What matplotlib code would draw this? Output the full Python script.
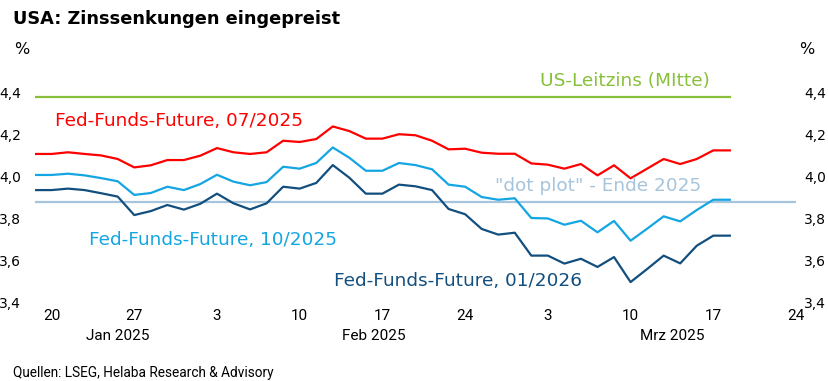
import pandas as pd
import matplotlib.pyplot as plt
from matplotlib.ticker import FixedLocator

# trading days shown (Jan 17 - Mar 18 2025), axis runs to Mar 24
dates = pd.bdate_range("2025-01-17", "2025-03-18")
axis_dates = pd.bdate_range("2025-01-17", "2025-03-24")

ff_07_2025 = [4.105, 4.105, 4.113, 4.105, 4.098, 4.081, 4.041, 4.051, 4.076, 4.076,
              4.097, 4.133, 4.113, 4.105, 4.113, 4.168, 4.162, 4.176, 4.236, 4.214,
              4.178, 4.178, 4.199, 4.194, 4.168, 4.127, 4.130, 4.111, 4.106, 4.106,
              4.060, 4.054, 4.035, 4.057, 4.003, 4.051, 3.989, 4.035, 4.081, 4.057,
              4.081, 4.122, 4.122]
ff_10_2025 = [4.005, 4.005, 4.011, 4.003, 3.990, 3.975, 3.910, 3.919, 3.949, 3.933,
              3.962, 4.006, 3.973, 3.956, 3.971, 4.044, 4.035, 4.062, 4.136, 4.087,
              4.025, 4.025, 4.062, 4.052, 4.032, 3.959, 3.949, 3.900, 3.887, 3.894,
              3.800, 3.798, 3.768, 3.787, 3.732, 3.786, 3.692, 3.749, 3.808, 3.784,
              3.838, 3.887, 3.887]
ff_01_2026 = [3.933, 3.933, 3.940, 3.933, 3.918, 3.902, 3.814, 3.833, 3.862, 3.840,
              3.868, 3.916, 3.870, 3.841, 3.870, 3.949, 3.940, 3.967, 4.052, 3.992,
              3.916, 3.916, 3.959, 3.951, 3.933, 3.843, 3.818, 3.748, 3.721, 3.730,
              3.621, 3.621, 3.583, 3.606, 3.567, 3.614, 3.495, 3.557, 3.621, 3.584,
              3.668, 3.716, 3.716]
leitzins_mitte = 4.375   # drawn over the data period only
dot_plot_2025 = 3.875    # drawn across the whole axis

y_ticks = [3.4, 3.6, 3.8, 4.0, 4.2, 4.4]
y_tick_labels = ["3,4", "3,6", "3,8", "4,0", "4,2", "4,4"]
month_names = {1: "Jan", 2: "Feb", 3: "Mrz"}

RED = "#ff0000"
LIGHT = "#14a5e3"
DARK = "#124f7e"
GREEN = "#88c03c"
DOT = "#a6c4db"

narrow = ["Roboto", "DejaVu Sans"]

fig = plt.figure(figsize=(8.29, 3.81), dpi=100)
ax = fig.add_axes([0.0422, 0.2073, 0.918, 0.5512])

x = list(range(len(dates)))
ax.plot(x, [leitzins_mitte] * len(x), color=GREEN, linewidth=1.6)
ax.axhline(dot_plot_2025, color=DOT, linewidth=1.6)
ax.plot(x, ff_07_2025, color=RED, linewidth=1.6)
ax.plot(x, ff_10_2025, color=LIGHT, linewidth=1.6)
ax.plot(x, ff_01_2026, color=DARK, linewidth=1.6)

ax.set_xlim(0, len(axis_dates) - 1)
ax.set_ylim(3.4, 4.4)
for s in ax.spines.values():
    s.set_visible(False)

# weekly ticks on Mondays
mondays = [i for i, d in enumerate(axis_dates) if d.weekday() == 0]
ax.xaxis.set_major_locator(FixedLocator(mondays))
ax.set_xticklabels([str(axis_dates[i].day) for i in mondays], fontsize=11, family=narrow)
ax.tick_params(axis="x", length=0, pad=5)

ax.set_yticks(y_ticks)
ax.set_yticklabels(y_tick_labels, fontsize=10)
ax.tick_params(axis="y", length=0, pad=10)

# right hand labels sit closer to the plot
ax2 = ax.twinx()
ax2.set_ylim(ax.get_ylim())
ax2.set_yticks(y_ticks)
ax2.set_yticklabels(y_tick_labels, fontsize=10)
ax2.tick_params(axis="y", length=0, pad=6)
for s in ax2.spines.values():
    s.set_visible(False)

# month labels centered under each month's span
idx = pd.Series(range(len(axis_dates)), index=axis_dates)
for m, grp in idx.groupby(idx.index.month):
    xc = (grp.min() + grp.max()) / 2
    ax.text(xc, -0.162, f"{month_names[m]} 2025", transform=ax.get_xaxis_transform(),
            ha="center", va="center", fontsize=11, family=narrow)

# series labels
lbl = dict(fontsize=13.3, va="center")
ax.text(30.5, 4.452, "US-Leitzins (MItte)", color=GREEN, **lbl)
ax.text(1.2, 4.262, "Fed-Funds-Future, 07/2025", color=RED, **lbl)
ax.text(27.8, 3.952, "\"dot plot\" - Ende 2025", color=DOT, **lbl)
ax.text(3.26, 3.695, "Fed-Funds-Future, 10/2025", color=LIGHT, **lbl)
ax.text(18.1, 3.50, "Fed-Funds-Future, 01/2026", color=DARK, **lbl)

fig.text(13 / 829, 1 - 19 / 381, "USA: Zinssenkungen eingepreist", fontsize=12.8,
         fontweight="bold", va="center")
fig.text(14 / 829, 1 - 49 / 381, "%", fontsize=11.5, va="center")
fig.text(799 / 829, 1 - 49 / 381, "%", fontsize=11.5, va="center")
fig.text(13 / 829, 1 - 373 / 381, "Quellen: LSEG, Helaba Research & Advisory",
         fontsize=9.8, va="center", family=narrow)

fig.savefig("out.png", dpi=100)
